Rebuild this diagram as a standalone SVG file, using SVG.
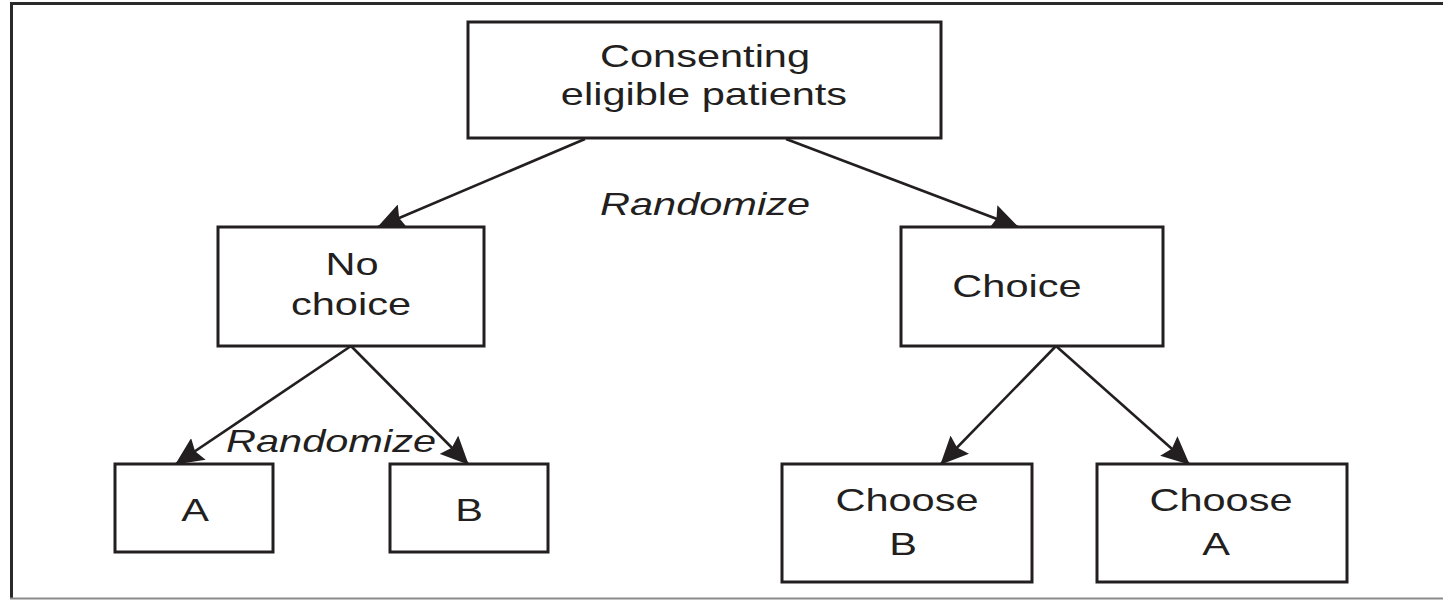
<svg xmlns="http://www.w3.org/2000/svg" width="1443" height="600" viewBox="0 0 1443 600">
<style>
.box{fill:#fff;stroke:#231f20;stroke-width:3}
.t{font-family:"Liberation Sans",Arial,sans-serif;font-size:31px;fill:#231f20;text-anchor:middle}
.i{font-style:italic}
.c{stroke:#231f20;stroke-width:2.6;fill:none;marker-end:url(#ah)}
</style>
<defs>
<marker id="ah" markerUnits="userSpaceOnUse" markerWidth="28" markerHeight="26" viewBox="0 0 28 26" refX="27" refY="13" orient="auto">
<path d="M0,0 L28,13 L0,26 L4,13 z" fill="#231f20"/>
</marker>
</defs>
<rect width="1443" height="600" fill="#fff"/>
<g id="frame">
<line x1="10" y1="3.5" x2="1443" y2="3.5" stroke="#2a2a2a" stroke-width="3"/>
<line x1="11.5" y1="2" x2="11.5" y2="598" stroke="#2a2a2a" stroke-width="3"/>
<line x1="10" y1="598.5" x2="1443" y2="598.5" stroke="#8a8a8a" stroke-width="2"/>
</g>
<g id="connectors">
<line class="c" x1="585" y1="139" x2="378" y2="227"/>
<line class="c" x1="786" y1="139" x2="1018" y2="227"/>
<line class="c" x1="351" y1="346" x2="176" y2="464"/>
<line class="c" x1="351" y1="346" x2="468" y2="464"/>
<line class="c" x1="1056" y1="346" x2="941" y2="464"/>
<line class="c" x1="1056" y1="346" x2="1189" y2="464"/>
</g>
<g id="label-randomize-1"><text class="t i" transform="translate(705,215) scale(1.34,1)">Randomize</text></g>
<g id="label-randomize-2"><text class="t i" transform="translate(331,452) scale(1.34,1)">Randomize</text></g>
<g id="n-consenting">
<rect class="box" x="468" y="22" width="473" height="116"/>
<text class="t" transform="translate(705,67) scale(1.34,1)">Consenting</text>
<text class="t" transform="translate(704,105) scale(1.34,1)">eligible patients</text>
</g>
<g id="n-nochoice">
<rect class="box" x="218" y="227" width="266" height="119"/>
<text class="t" transform="translate(352,275) scale(1.34,1)">No</text>
<text class="t" transform="translate(351,315) scale(1.34,1)">choice</text>
</g>
<g id="n-choice">
<rect class="box" x="901" y="227" width="262" height="119"/>
<text class="t" transform="translate(1017,297) scale(1.34,1)">Choice</text>
</g>
<g id="n-a">
<rect class="box" x="115" y="464" width="158" height="88"/>
<text class="t" transform="translate(195,521) scale(1.34,1)">A</text>
</g>
<g id="n-b">
<rect class="box" x="390" y="464" width="158" height="88"/>
<text class="t" transform="translate(469,521) scale(1.34,1)">B</text>
</g>
<g id="n-chooseb">
<rect class="box" x="782" y="464" width="250" height="118"/>
<text class="t" transform="translate(907,511) scale(1.34,1)">Choose</text>
<text class="t" transform="translate(903,555) scale(1.34,1)">B</text>
</g>
<g id="n-choosea">
<rect class="box" x="1097" y="464" width="250" height="118"/>
<text class="t" transform="translate(1221,511) scale(1.34,1)">Choose</text>
<text class="t" transform="translate(1216,555) scale(1.34,1)">A</text>
</g>
</svg>
